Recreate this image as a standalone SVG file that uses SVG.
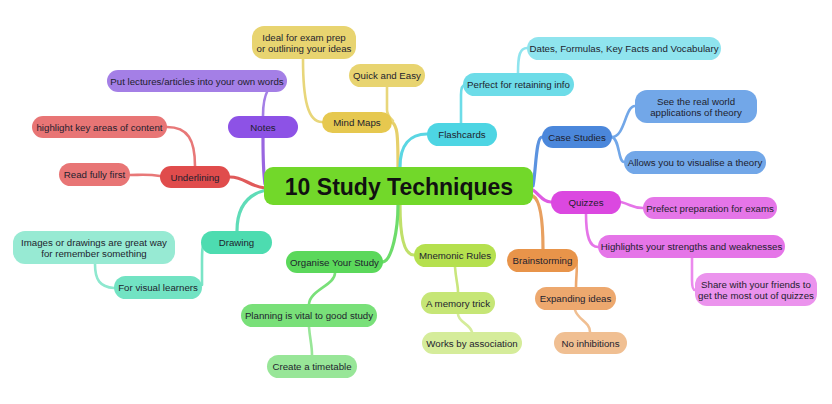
<svg xmlns="http://www.w3.org/2000/svg" width="832" height="404" viewBox="0 0 832 404">
<style>
text{font-family:"Liberation Sans",Arial,sans-serif;font-size:9.7px;fill:#1e1e2e;text-anchor:middle}
.t{font-size:23px;font-weight:bold;fill:#111}
.c path{fill:none;stroke-linecap:round}
.l1{stroke-width:3.2}
.l2{stroke-width:2.6}
</style>
<rect width="832" height="404" fill="#fff"/>
<g class="c" id="connectors">
<path class="l1" stroke="#9966e0" d="M265,184 C263,170 263,150 263,138"/>
<path class="l2" stroke="#a47fe6" d="M263,116 C263,95 268,81 284,81"/>
<path class="l1" stroke="#e05a5a" d="M265,188 C248,186 245,177 230,177"/>
<path class="l2" stroke="#e87878" d="M195,166 C195,140 188,127 167,127"/>
<path class="l2" stroke="#e87878" d="M160,176 C148,174 140,175 130,175"/>
<path class="l1" stroke="#5fdcb8" d="M266,190 C245,195 237,210 237,231"/>
<path class="l2" stroke="#7ae4c6" d="M205,242 C202,245 202,252 202,265 L202,285"/>
<path class="l2" stroke="#8ee8cf" d="M114,288 C100,287 95,280 95,264"/>
<path class="l1" stroke="#e6d06a" d="M392,122 C397,126 398,132 398,167"/>
<path class="l2" stroke="#e8d67a" d="M387,87 L387,110 C387,115 390,118 393,121"/>
<path class="l2" stroke="#e8d67a" d="M303,59 C303,100 308,122 322,122"/>
<path class="l1" stroke="#5ad6e3" d="M400,167 C400,145 410,134 427,134"/>
<path class="l2" stroke="#6ddce8" d="M461,123 L461,95 C461,88 462,85 465,85"/>
<path class="l2" stroke="#8fe4ee" d="M518,73 C518,55 520,48 527,48"/>
<path class="l1" stroke="#5b93e0" d="M533,186 C536,170 536,137 542,137"/>
<path class="l2" stroke="#72a7e8" d="M612,137 C625,137 625,106 635,106"/>
<path class="l2" stroke="#72a7e8" d="M612,137 C620,140 618,162 624,162"/>
<path class="l1" stroke="#de5ce2" d="M533,190 C540,195 543,202 551,202"/>
<path class="l2" stroke="#e575e8" d="M621,202 C632,205 632,208 643,208"/>
<path class="l2" stroke="#e575e8" d="M586,214 C586,238 590,247 598,247"/>
<path class="l2" stroke="#eb8aed" d="M692,258 L692,280 C692,288 693,290 695,290"/>
<path class="l1" stroke="#e8a060" d="M533,196 C540,200 543,220 543,249"/>
<path class="l2" stroke="#eda86e" d="M576,261 C578,265 576,275 576,287"/>
<path class="l2" stroke="#f0bf92" d="M575,310 C578,320 590,322 590,332"/>
<path class="l1" stroke="#c0e06a" d="M400,205 C400,235 404,255 414,255"/>
<path class="l2" stroke="#c9e67c" d="M455,267 C456,280 458,285 458,292"/>
<path class="l2" stroke="#d5ec9a" d="M458,314 C458,322 470,324 472,332"/>
<path class="l1" stroke="#6ddc6a" d="M398,205 C398,230 392,260 383,262"/>
<path class="l2" stroke="#79e079" d="M335,273 C335,285 310,290 309,304"/>
<path class="l2" stroke="#98e698" d="M309,327 C310,340 312,345 312,355"/>
</g>
<g id="center"><rect x="264" y="167" width="269" height="38" rx="9" fill="#72d82a"/><text class="t" x="399" y="195">10 Study Techniques</text></g>
<g id="notes"><rect x="228" y="116" width="70" height="22" rx="11" fill="#8d52e6"/><text x="263" y="130.5">Notes</text></g>
<g id="put-lectures"><rect x="107" y="70" width="180" height="22" rx="11" fill="#a47fe6"/><text x="197" y="84.5">Put lectures/articles into your own words</text></g>
<g id="mind-maps"><rect x="322" y="112" width="70" height="21" rx="10.5" fill="#e6c84f"/><text x="357" y="126">Mind Maps</text></g>
<g id="ideal"><rect x="252" y="26" width="104" height="33" rx="12" fill="#e8d470"/><text x="304" y="40.5">Ideal for exam prep</text><text x="304" y="52">or outlining your ideas</text></g>
<g id="quick"><rect x="349" y="64" width="76" height="23" rx="11.5" fill="#e8d470"/><text x="387" y="79">Quick and Easy</text></g>
<g id="flashcards"><rect x="427" y="123" width="70" height="23" rx="11.5" fill="#4dd5e3"/><text x="462" y="138">Flashcards</text></g>
<g id="perfect"><rect x="463" y="73" width="111" height="23" rx="11.5" fill="#6ddce8"/><text x="518.5" y="88">Perfect for retaining info</text></g>
<g id="dates"><rect x="527" y="37" width="194" height="23" rx="11.5" fill="#8fe4ee"/><text x="624" y="52">Dates, Formulas, Key Facts and Vocabulary</text></g>
<g id="case-studies"><rect x="542" y="126" width="70" height="22" rx="11" fill="#4b87db"/><text x="577" y="140.5">Case Studies</text></g>
<g id="see-real"><rect x="635" y="90" width="122" height="33" rx="12" fill="#72a7e8"/><text x="696" y="104.5">See the real world</text><text x="696" y="116">applications of theory</text></g>
<g id="allows"><rect x="624" y="151" width="142" height="23" rx="11.5" fill="#72a7e8"/><text x="695" y="166">Allows you to visualise a theory</text></g>
<g id="quizzes"><rect x="551" y="191" width="70" height="23" rx="11.5" fill="#db48e0"/><text x="586" y="206">Quizzes</text></g>
<g id="prefect"><rect x="643" y="197" width="134" height="22" rx="11" fill="#e575e8"/><text x="710" y="211.5">Prefect preparation for exams</text></g>
<g id="highlights"><rect x="598" y="235" width="187" height="23" rx="11.5" fill="#e575e8"/><text x="691.5" y="250">Highlights your strengths and weaknesses</text></g>
<g id="share"><rect x="695" y="273" width="122" height="33" rx="12" fill="#eb93ed"/><text x="756" y="287.5">Share with your friends to</text><text x="756" y="299">get the most out of quizzes</text></g>
<g id="brainstorming"><rect x="507" y="249" width="71" height="23" rx="11.5" fill="#e8944a"/><text x="542.5" y="264">Brainstorming</text></g>
<g id="expanding"><rect x="535" y="287" width="81" height="23" rx="11.5" fill="#eda86e"/><text x="575.5" y="302">Expanding ideas</text></g>
<g id="no-inhibitions"><rect x="554" y="332" width="73" height="22" rx="11" fill="#f0bf92"/><text x="590.5" y="346.5">No inhibitions</text></g>
<g id="mnemonic"><rect x="414" y="244" width="82" height="23" rx="11.5" fill="#b5e04e"/><text x="455" y="259">Mnemonic Rules</text></g>
<g id="memory-trick"><rect x="421" y="292" width="74" height="22" rx="11" fill="#c6e676"/><text x="458" y="306.5">A memory trick</text></g>
<g id="works"><rect x="422" y="332" width="100" height="22" rx="11" fill="#d5ec9a"/><text x="472" y="346.5">Works by association</text></g>
<g id="organise"><rect x="286" y="251" width="97" height="22" rx="11" fill="#5bd85b"/><text x="334.5" y="265.5">Organise Your Study</text></g>
<g id="planning"><rect x="241" y="304" width="136" height="23" rx="11.5" fill="#79e079"/><text x="309" y="319">Planning is vital to good study</text></g>
<g id="create"><rect x="267" y="355" width="90" height="23" rx="11.5" fill="#98e698"/><text x="312" y="370">Create a timetable</text></g>
<g id="drawing"><rect x="201" y="231" width="71" height="23" rx="11.5" fill="#4ddcb0"/><text x="236.5" y="246">Drawing</text></g>
<g id="visual"><rect x="114" y="276" width="88" height="23" rx="11.5" fill="#72e3c3"/><text x="158" y="291">For visual learners</text></g>
<g id="images"><rect x="13" y="231" width="162" height="33" rx="12" fill="#97ead3"/><text x="94" y="245.5">Images or drawings are great way</text><text x="94" y="257">for remember something</text></g>
<g id="underlining"><rect x="160" y="166" width="70" height="22" rx="11" fill="#e04c4c"/><text x="195" y="180.5">Underlining</text></g>
<g id="highlight"><rect x="32" y="116" width="135" height="22" rx="11" fill="#e87575"/><text x="99.5" y="130.5">highlight key areas of content</text></g>
<g id="read"><rect x="59" y="163" width="71" height="23" rx="11.5" fill="#e87575"/><text x="94.5" y="178">Read fully first</text></g>
</svg>
